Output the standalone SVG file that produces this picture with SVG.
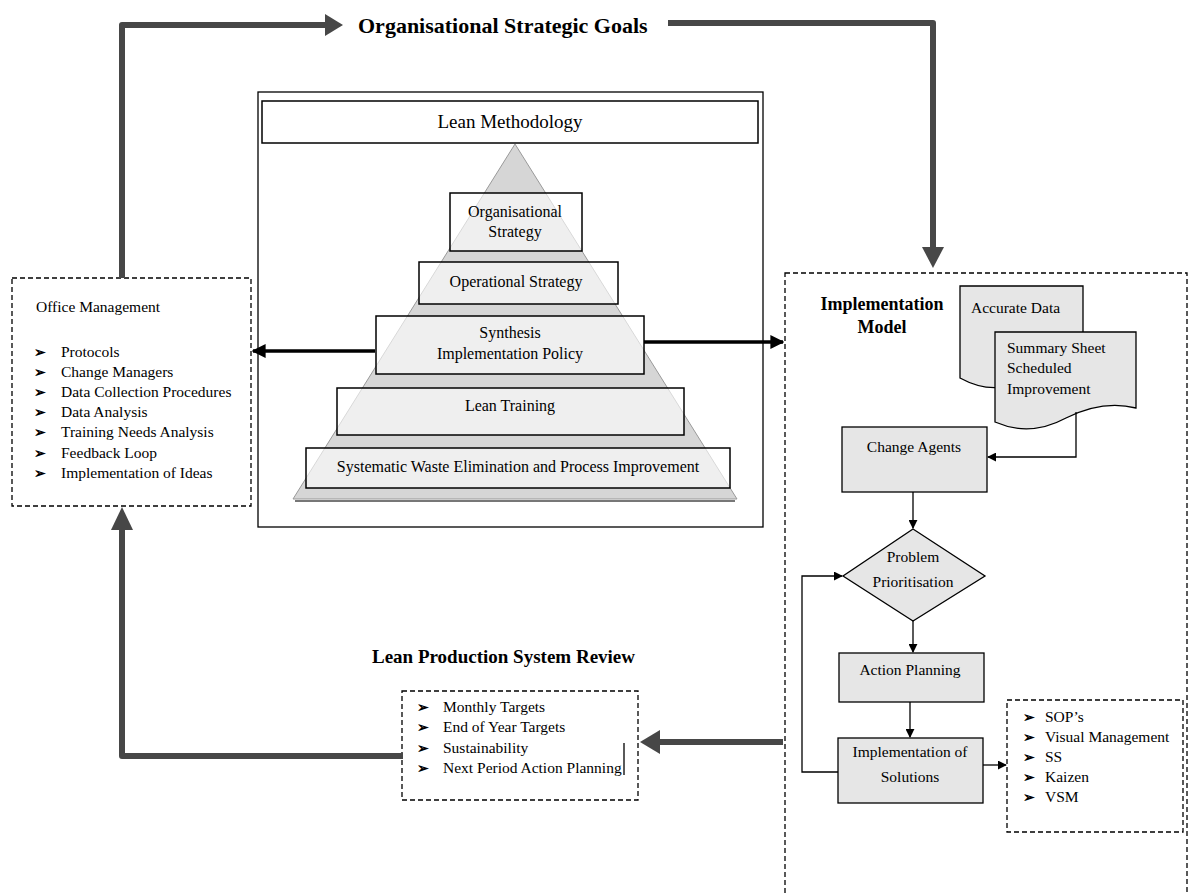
<svg xmlns="http://www.w3.org/2000/svg" width="1189" height="893" viewBox="0 0 1189 893">
<defs>
<marker id="ah" viewBox="0 0 10 10" refX="9" refY="5" markerWidth="9" markerHeight="9" markerUnits="userSpaceOnUse" orient="auto"><path d="M0,0 L10,5 L0,10 Z" fill="#000"/></marker>
<marker id="ahm" viewBox="0 0 10 10" refX="9" refY="5" markerWidth="14" markerHeight="14" markerUnits="userSpaceOnUse" orient="auto"><path d="M0,0 L10,5 L0,10 Z" fill="#000"/></marker>
</defs>
<style>
text{font-family:"Liberation Serif","Times New Roman",serif;fill:#000}
.t{font-size:16px}
.s{font-size:15.5px}
.b{font-weight:bold}
.m{text-anchor:middle}
.bul{font-family:"DejaVu Sans",sans-serif;font-size:14px;font-weight:bold}
.box{fill:#fff;fill-opacity:0.62;stroke:#000;stroke-width:1.5}
.gbox{fill:#e6e6e6;stroke:#000;stroke-width:1.3}
.dash{fill:none;stroke:#000;stroke-width:1.3;stroke-dasharray:5,3}
.thick{fill:none;stroke:#474747;stroke-width:6;stroke-linejoin:round}
.thickh{fill:#474747}
.thin{fill:none;stroke:#000;stroke-width:1.3}
.med{fill:none;stroke:#000;stroke-width:3.5}
</style>
<rect width="1189" height="893" fill="#fff"/>

<g id="title-goals"><text class="b" x="358" y="33" font-size="22">Organisational Strategic Goals</text></g>

<g id="lean-methodology">
<rect x="258" y="92" width="505" height="435" fill="#fff" stroke="#000" stroke-width="1.3"/>
<rect x="262" y="101" width="496" height="42" fill="#fff" stroke="#000" stroke-width="1.5"/>
<text class="m" x="510" y="128" font-size="19">Lean Methodology</text>
<polygon points="515,144 293,499 737,499" fill="#d6d6d6" stroke="#999" stroke-width="1"/>
<line x1="295" y1="501" x2="735" y2="501" stroke="#777" stroke-width="2"/>
</g>
<g id="organisational-strategy"><rect class="box" x="450" y="193" width="132" height="58"/><text class="t m" x="515" y="217">Organisational</text><text class="t m" x="515" y="237">Strategy</text></g>
<g id="operational-strategy"><rect class="box" x="419" y="262" width="199" height="42"/><text class="t m" x="516" y="287">Operational Strategy</text></g>
<g id="synthesis"><rect class="box" x="376" y="316" width="268" height="58"/><text class="t m" x="510" y="338">Synthesis</text><text class="t m" x="510" y="359">Implementation Policy</text></g>
<g id="lean-training"><rect class="box" x="337" y="388" width="347" height="47"/><text class="t m" x="510" y="411">Lean Training</text></g>
<g id="systematic-waste"><rect class="box" x="306" y="448" width="424" height="40"/><text class="t m" x="518" y="472">Systematic Waste Elimination and Process Improvement</text></g>

<g id="office-management">
<rect class="dash" x="12" y="278" width="239" height="228"/>
<text class="s" x="36" y="312">Office Management</text>
<g class="bul"><text x="34" y="357">➢</text><text x="34" y="377">➢</text><text x="34" y="397">➢</text><text x="34" y="417">➢</text><text x="34" y="437">➢</text><text x="34" y="458">➢</text><text x="34" y="478">➢</text></g>
<text class="s" x="61" y="357">Protocols</text>
<text class="s" x="61" y="377">Change Managers</text>
<text class="s" x="61" y="397">Data Collection Procedures</text>
<text class="s" x="61" y="417">Data Analysis</text>
<text class="s" x="61" y="437">Training Needs Analysis</text>
<text class="s" x="61" y="458">Feedback Loop</text>
<text class="s" x="61" y="478">Implementation of Ideas</text>
</g>

<g id="review-title"><text class="b" x="372" y="663" font-size="19">Lean Production System Review</text></g>
<g id="review-box">
<rect class="dash" x="402" y="691" width="236" height="109"/>
<g class="bul"><text x="417" y="712">➢</text><text x="417" y="732">➢</text><text x="417" y="753">➢</text><text x="417" y="773">➢</text></g>
<text class="s" x="443" y="712">Monthly Targets</text>
<text class="s" x="443" y="732">End of Year Targets</text>
<text class="s" x="443" y="753">Sustainability</text>
<text class="s" x="443" y="773">Next Period Action Planning</text>
<line x1="624" y1="743" x2="624" y2="775" stroke="#000" stroke-width="1.3"/>
</g>

<g id="implementation-model">
<rect class="dash" x="785" y="273" width="402" height="640"/>
<text class="b m" x="882" y="310" font-size="18">Implementation</text>
<text class="b m" x="882" y="333" font-size="18">Model</text>
</g>
<g id="accurate-data"><path class="gbox" d="M960,286 H1083 V372 C1060,366 1040,372 1020,382 C1000,391 980,389 960,378 Z"/><text class="s" x="971" y="313">Accurate Data</text></g>
<g id="summary-sheet"><path class="gbox" d="M995,332 H1136 V408 C1112,402 1090,406 1066,418 C1042,431 1018,432 995,422 Z"/><text class="s" x="1007" y="353">Summary Sheet</text><text class="s" x="1007" y="373">Scheduled</text><text class="s" x="1007" y="394">Improvement</text></g>
<g id="change-agents"><rect class="gbox" x="842" y="427" width="145" height="65"/><text class="s m" x="914" y="452">Change Agents</text></g>
<g id="problem-prioritisation"><polygon class="gbox" points="913,529 985,576 913,621 843,576"/><text class="s m" x="913" y="562">Problem</text><text class="s m" x="913" y="587">Prioritisation</text></g>
<g id="action-planning"><rect class="gbox" x="839" y="653" width="145" height="49"/><text class="s m" x="910" y="675">Action Planning</text></g>
<g id="implementation-solutions"><rect class="gbox" x="838" y="738" width="145" height="65"/><text class="s m" x="910" y="757">Implementation of</text><text class="s m" x="910" y="782">Solutions</text></g>
<g id="tools-box">
<rect class="dash" x="1007" y="700" width="176" height="132"/>
<g class="bul"><text x="1023" y="722">➢</text><text x="1023" y="742">➢</text><text x="1023" y="762">➢</text><text x="1023" y="782">➢</text><text x="1023" y="802">➢</text></g>
<text class="s" x="1045" y="722">SOP’s</text>
<text class="s" x="1045" y="742">Visual Management</text>
<text class="s" x="1045" y="762">SS</text>
<text class="s" x="1045" y="782">Kaizen</text>
<text class="s" x="1045" y="802">VSM</text>
</g>

<g id="connectors">
<path class="thick" d="M122,278 V25 H327"/>
<polygon class="thickh" points="325,14 343,25 325,36"/>
<path class="thick" d="M668,23 H933 V250"/>
<polygon class="thickh" points="922,247 944,247 933,268"/>
<path class="thick" d="M783,742 H658"/>
<polygon class="thickh" points="660,730 660,754 640,742"/>
<path class="thick" d="M403,756 H122 V528"/>
<polygon class="thickh" points="111,530 133,530 122,507"/>
<path class="med" d="M375,351 H253" marker-end="url(#ahm)"/>
<path class="med" d="M644,342 H783" marker-end="url(#ahm)"/>
<path class="thin" d="M1076,412 V457 H988" marker-end="url(#ah)"/>
<path class="thin" d="M913,492 V528" marker-end="url(#ah)"/>
<path class="thin" d="M913,621 V652" marker-end="url(#ah)"/>
<path class="thin" d="M910,702 V737" marker-end="url(#ah)"/>
<path class="thin" d="M838,772 H802 V576 H842" marker-end="url(#ah)"/>
<path class="thin" d="M983,765 H1006" marker-end="url(#ah)"/>
</g>
</svg>
